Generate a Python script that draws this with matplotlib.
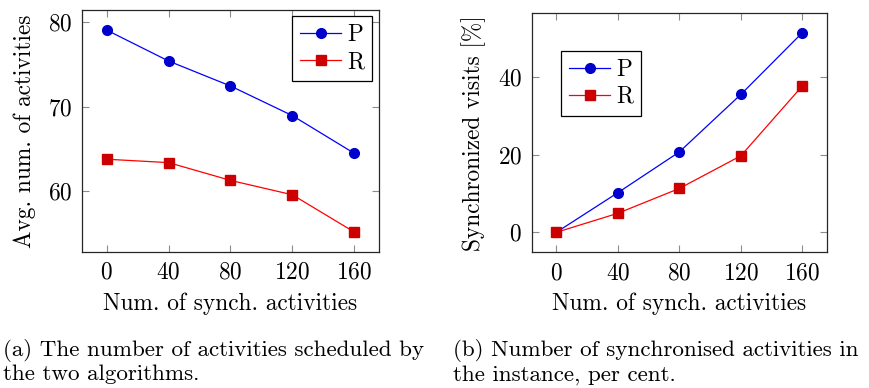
import matplotlib.pyplot as plt

#%% data
synch = [0, 40, 80, 120, 160]
xticks = [0, 40, 80, 120, 160]

# (a) avg number of scheduled activities
act_P = [79.05, 75.4, 72.45, 68.95, 64.5]
act_R = [63.8, 63.4, 61.3, 59.6, 55.2]

# (b) synchronized visits in per cent
vis_P = [0.0, 10.2, 20.7, 35.5, 51.4]
vis_R = [0.0, 4.9, 11.3, 19.7, 37.7]

xlabel = 'Num. of synch. activities'
ylabel_a = 'Avg. num. of activities'
ylabel_b = 'Synchronized visits [%]'
caption_a = ["(a) The number of activities scheduled by", "the two algorithms."]
caption_b = ["(b) Number of synchronised activities in", "the instance, per cent."]

#%% style
plt.rcParams['font.family'] = 'serif'
plt.rcParams['font.serif'] = ['cmr10', 'DejaVu Serif']
plt.rcParams['mathtext.fontset'] = 'cm'
plt.rcParams['axes.formatter.use_mathtext'] = True
fs = 16.8
fs_cap = 16.6

W, H = 870, 388
fig = plt.figure(figsize=(W / 100, H / 100), dpi=100)


def px_axes(left, top, right, bottom):
    return fig.add_axes([left / W, 1 - bottom / H, (right - left) / W, (bottom - top) / H])


def style(ax, ylim, yticks, ylabel, ylab_y):
    ax.set_xlim(-16, 176)
    ax.set_ylim(*ylim)
    ax.set_xticks(xticks)
    ax.set_yticks(yticks)
    ax.tick_params(direction='in', top=True, right=True, length=5, width=0.8,
                   color='0.55', labelsize=fs, pad=7)
    for s in ax.spines.values():
        s.set_linewidth(0.9)
        s.set_color('0.15')
    ax.set_xlabel(xlabel, fontsize=fs)
    ax.set_ylabel(ylabel, fontsize=fs)
    ax.xaxis.set_label_coords(0.5, -0.169)
    ax.yaxis.set_label_coords(-0.154, ylab_y)


def draw(ax, p, r):
    ax.plot(synch, p, color='blue', lw=0.9, marker='o', ms=7,
            mfc=(0, 0, 0.8), mec=(0, 0, 0.8), label='P')
    ax.plot(synch, r, color='red', lw=0.9, marker='s', ms=6.8,
            mfc=(0.8, 0, 0), mec=(0.8, 0, 0), label='R')


def add_legend(ax, loc, anchor):
    leg = ax.legend(loc=loc, bbox_to_anchor=anchor, borderaxespad=0,
                    fontsize=fs, fancybox=False, framealpha=1,
                    edgecolor='black', handlelength=1.75, handletextpad=0.25,
                    borderpad=0.35, labelspacing=0.2)
    leg.get_frame().set_linewidth(0.9)


#%% plot (a)
ax1 = px_axes(82, 10, 379, 252)
draw(ax1, act_P, act_R)
style(ax1, (52.84, 81.43), [60, 70, 80], ylabel_a, 0.500)
add_legend(ax1, 'upper right', (0.977, 0.975))

#%% plot (b)
ax2 = px_axes(531.7, 12.7, 827, 252.3)
draw(ax2, vis_P, vis_R)
style(ax2, (-5.14, 56.54), [0, 20, 40], ylabel_b, 0.496)
add_legend(ax2, 'upper left', (0.100, 0.841))

#%% captions
for x, lines in [(3, caption_a), (453, caption_b)]:
    for i, line in enumerate(lines):
        fig.text(x / W, 1 - (355.7 + 24.8 * i) / H, line, fontsize=fs_cap,
                 va='baseline', ha='left')

fig.savefig('out.png', dpi=100)
